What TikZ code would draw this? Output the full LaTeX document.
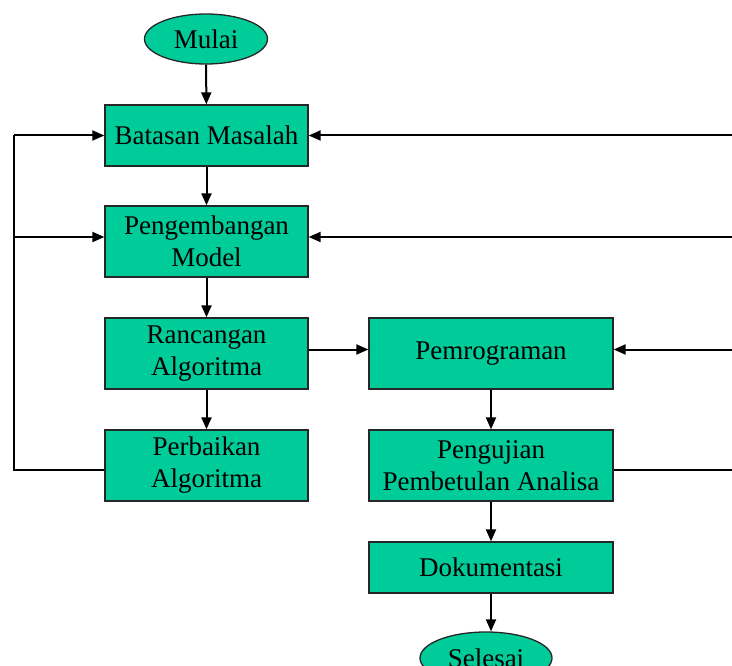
\documentclass[tikz,border=0pt]{standalone}
\usepackage{fontspec}
\setmainfont{Liberation Serif}
\usetikzlibrary{shapes.geometric,arrows.meta}
\definecolor{boxfill}{HTML}{00CC99}
\begin{document}
\begin{tikzpicture}[x=1pt,y=-1pt,
  box/.style={draw=black!85,line width=1.3pt,fill=boxfill,inner sep=0pt,
    font=\fontsize{27}{32}\selectfont,align=center},
  term/.style={ellipse,draw=black!85,line width=1.3pt,fill=boxfill,inner sep=0pt,
    font=\fontsize{27}{32}\selectfont},
  arr/.style={line width=2pt,-{Triangle[length=12pt,width=10pt]}},
  ln/.style={line width=2pt}]
\useasboundingbox (0,0) rectangle (732,666);
\node[term,minimum width=123pt,minimum height=50pt] (mulai) at (206,39) {Mulai};
\node[box,minimum width=203pt,minimum height=61pt] (bat) at (206.5,135.5) {Batasan Masalah};
\node[box,minimum width=203pt,minimum height=71pt] (peng) at (206.5,241.5) {Pengembangan\\Model};
\node[box,minimum width=203pt,minimum height=71pt] (ranc) at (206.5,353.5) {Rancangan\\Algoritma};
\node[box,minimum width=203pt,minimum height=71pt] (perb) at (206.5,465.5) {Perbaikan\\Algoritma};
\node[box,minimum width=244pt,minimum height=71pt] (pemr) at (491,353.5) {Pemrograman};
\node[box,minimum width=244pt,minimum height=71pt] (uji) at (491,465.5) {Pengujian\\Pembetulan Analisa};
\node[box,minimum width=244pt,minimum height=51pt] (dok) at (491,567.5) {Dokumentasi};
\node[term,minimum width=132pt,minimum height=52pt] (sel) at (486,658) {Selesai};
\draw[arr] (mulai) -- (bat);
\draw[arr] (bat) -- (peng);
\draw[arr] (peng) -- (ranc);
\draw[arr] (ranc) -- (perb);
\draw[arr] ([yshift=4pt]ranc.east) -- ([yshift=4pt]pemr.west);
\draw[arr] (pemr) -- (uji);
\draw[arr] (uji) -- (dok);
\draw[arr] (dok.south) -- (dok.south |- sel.north);
% left feedback loop
\coordinate (lb) at (14,470);
\coordinate (lt) at (14,135.5);
\coordinate (lm) at (14,237);
\draw[ln] (perb.west |- lb) -- (lb) -- (lt);
\draw[arr] (lt) -- (bat.west);
\draw[arr] (lm) -- (peng.west |- lm);
% right feedback lines
\coordinate (r1) at (732,135.5);
\coordinate (r2) at (732,237);
\coordinate (r3) at (732,349.5);
\coordinate (r4) at (732,470);
\draw[arr] (r1) -- (bat.east);
\draw[arr] (r2) -- (peng.east |- r2);
\draw[arr] (r3) -- (pemr.east |- r3);
\draw[ln] (uji.east |- r4) -- (r4);
\end{tikzpicture}
\end{document}
